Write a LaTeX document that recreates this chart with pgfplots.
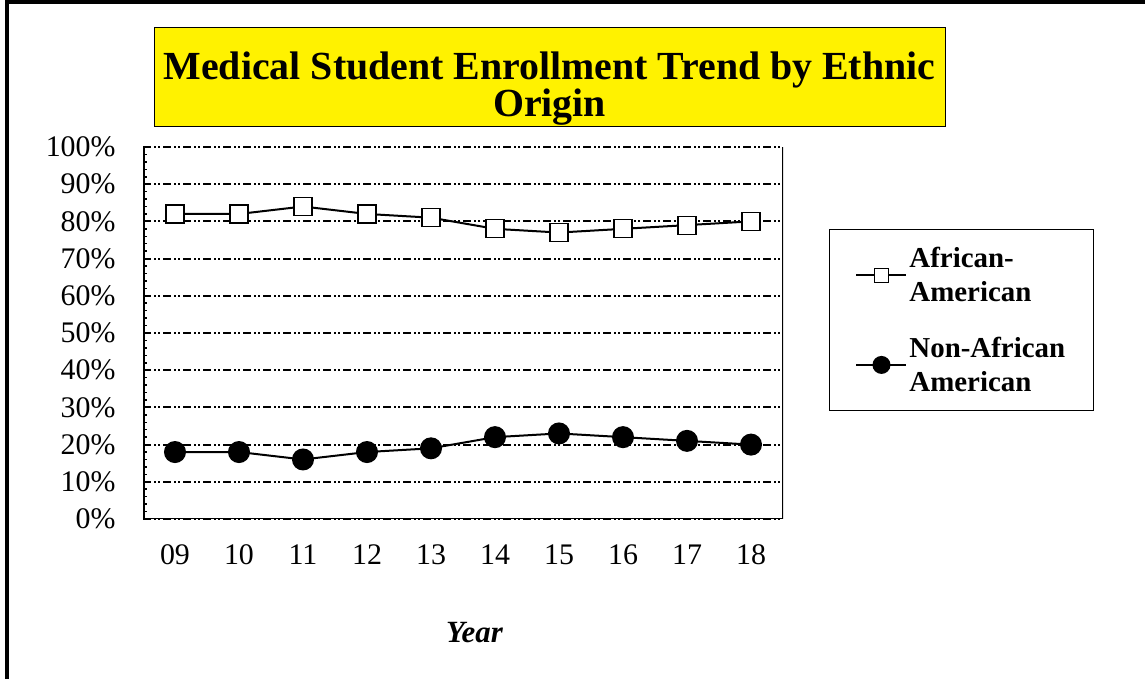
\documentclass[border=0pt]{standalone}
\usepackage{fontspec}
\setmainfont{Liberation Serif}
\usepackage{pgfplots}
\pgfplotsset{compat=1.18}
\begin{document}
\begin{tikzpicture}
\useasboundingbox (0bp,0bp) rectangle (1145bp,679bp);
\draw[line width=4bp] (7bp,0bp) -- (7bp,677bp) -- (1145bp,677bp);
\node[draw=black, line width=0.8bp, fill=yellow, minimum width=791bp, minimum height=99bp, anchor=north west, inner sep=0pt] at (154bp,652bp) {};
\node[align=center, font=\fontsize{40}{37}\selectfont\bfseries] at (549.5bp,590bp) {Medical Student Enrollment Trend by Ethnic\\[0bp]Origin};
\begin{axis}[
  at={(143bp,160bp)}, anchor=south west, scale only axis,
  width=640bp, height=372bp,
  xmin=-0.5, xmax=9.5, ymin=0, ymax=100,
  xtick={0,...,9}, xticklabels={09,10,11,12,13,14,15,16,17,18},
  ytick={0,10,...,100}, yticklabel={\pgfmathprintnumber{\tick}\%},
  minor y tick num=4,
  tick align=inside, ytick pos=left,
  xtick style={draw=none},
  ytick style={black, line width=1.5bp},
  major tick length=6bp, minor tick length=4bp,
  ymajorgrids,
  major grid style={black, line width=2bp, dash pattern=on 8bp off 3bp on 2bp off 2bp on 2bp off 3bp},
  axis line style={draw=none},
  /pgf/number format/assume math mode=true,
  tick label style={font=\fontsize{30}{32}\selectfont},
  yticklabel style={xshift=-24bp},
  xticklabel style={yshift=-22bp},
  xlabel={\bfseries\itshape Year},
  xlabel style={font=\fontsize{31}{32}\selectfont, at={(axis description cs:0.518,0)}, anchor=center, yshift=-114bp},
  legend style={at={(axis description cs:1.072,0.7796)}, anchor=north west, draw=black, line width=0.8bp,
    font=\fontsize{29}{34}\selectfont\bfseries, cells={align=left, anchor=west}, row sep=30bp,
    inner xsep=26bp, inner ysep=16bp},
]
\addplot[black, line width=2bp, mark=square*, mark size=9bp, mark options={fill=white, draw=black, line width=1.2bp},
  legend image code/.code={\draw[line width=2bp,black] (0bp,0bp) -- (50bp,0bp); \draw[line width=1bp, fill=white] (18bp,-7bp) rectangle (32bp,7bp);}]
  coordinates {(0,82) (1,82) (2,84) (3,82) (4,81) (5,78) (6,77) (7,78) (8,79) (9,80)};
\addlegendentry{African-\\American}
\addplot[black, line width=2bp, mark=*, mark size=10bp, mark options={fill=black},
  legend image code/.code={\draw[line width=2bp,black] (0bp,0bp) -- (50bp,0bp); \fill[black] (25bp,0bp) circle (8bp);}]
  coordinates {(0,18) (1,18) (2,16) (3,18) (4,19) (5,22) (6,23) (7,22) (8,21) (9,20)};
\addlegendentry{Non-African\\American}
\draw[line width=3bp] (rel axis cs:0,0) -- (rel axis cs:0,1);
\draw[line width=2bp] (rel axis cs:0,0) -- (rel axis cs:1,0) -- (rel axis cs:1,1);
\end{axis}
\end{tikzpicture}
\end{document}
